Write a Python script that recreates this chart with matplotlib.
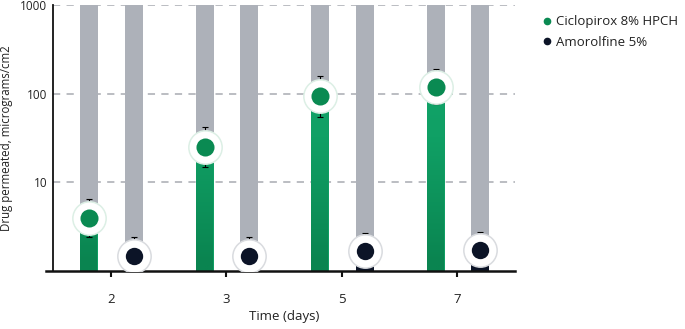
import numpy as np
import matplotlib
matplotlib.use("Agg")
import matplotlib.pyplot as plt
from matplotlib.lines import Line2D
from matplotlib.colors import LinearSegmentedColormap

# data (log scale)
days = ["2", "3", "5", "7"]
cic_vals = [4.0, 25, 94, 120]
cic_lo = [2.4, 14.9, 55, 76]
cic_hi = [6.5, 42, 160, 188]
amo_vals = [1.48, 1.48, 1.68, 1.73]
amo_lo = [1.3, 1.3, 1.5, 1.55]
amo_hi = [2.4, 2.4, 2.7, 2.75]

green = "#0f9e63"
green_dot = "#0a8a52"
navy = "#0c1427"
grey = "#adb1b9"
txt = "#222222"

plt.rcParams['font.family'] = ['Open Sans', 'DejaVu Sans']

fig = plt.figure(figsize=(6.85, 3.29), dpi=100)
ax = fig.add_axes([0.0774, 0.1763, 0.6745, 0.8085])

x = np.arange(len(days))
off_c, off_a, w = -0.185, 0.2, 0.155
ymin, ymax = 1, 1000

# grey background columns
for xi in x:
    ax.bar([xi + off_c, xi + off_a], [ymax - ymin] * 2, bottom=ymin, width=w,
           color=grey, zorder=1)

green_bars = ax.bar(x + off_c, np.array(cic_vals) - ymin, bottom=ymin, width=w,
                    color=green, zorder=2)
ax.bar(x + off_a, np.array(amo_vals) - ymin, bottom=ymin, width=w, color=navy, zorder=2)

# vertical shading on the green bars (darker towards the base), even on the log axis
cmap = LinearSegmentedColormap.from_list("g", ["#0a8450", "#10a065", "#14a66c"])
yy = np.linspace(ymin, ymax, 2048)
grad = (np.log10(yy) / np.log10(ymax)).reshape(-1, 1)
for b in green_bars:
    im = ax.imshow(grad, cmap=cmap, origin="lower", aspect="auto", zorder=2.1,
                   extent=[b.get_x(), b.get_x() + b.get_width(), ymin, ymax])
    im.set_clip_path(b)

# error bars
cv = np.array(cic_vals)
ax.errorbar(x + off_c, cv, yerr=[cv - np.array(cic_lo), np.array(cic_hi) - cv],
            fmt="none", ecolor="black", elinewidth=0.8, capsize=2, capthick=0.8, zorder=3)
av = np.array(amo_vals)
ax.errorbar(x + off_a, av, yerr=[av - np.array(amo_lo), np.array(amo_hi) - av],
            fmt="none", ecolor="black", elinewidth=0.8, capsize=2, capthick=0.8, zorder=3)

# ringed markers
ax.plot(x + off_c, cic_vals, "o", ms=24, mfc="white", mec="#dcefe5", mew=1.1, zorder=4, clip_on=False)
ax.plot(x + off_c, cic_vals, "o", ms=13, mfc=green_dot, mec=green_dot, mew=0, zorder=5, clip_on=False)
ax.plot(x + off_a, amo_vals, "o", ms=24, mfc="white", mec="#d9dbdf", mew=1.1, zorder=4)
ax.plot(x + off_a, amo_vals, "o", ms=12.5, mfc=navy, mec=navy, mew=0, zorder=5)

ax.set_yscale("log")
ax.set_ylim(ymin, ymax)
ax.set_xlim(-0.5, 3.5)
ax.set_yticks([10, 100, 1000])
ax.set_yticklabels(["10", "100", "1000"])
ax.yaxis.set_minor_locator(matplotlib.ticker.NullLocator())
ax.set_xticks(x)
ax.set_xticklabels(days)

ax.grid(axis="y", which="major", color="#b5b8bd", linestyle=(0, (4, 3.5)), linewidth=1.3)
ax.set_axisbelow(True)

for s in ["top", "right"]:
    ax.spines[s].set_visible(False)
ax.spines["left"].set_color("#111111")
ax.spines["left"].set_linewidth(1.3)
ax.spines["bottom"].set_color("#111111")
ax.spines["bottom"].set_linewidth(1.8)
ax.spines["bottom"].set_bounds(-0.56, 3.5)

ax.tick_params(axis="y", length=0, labelsize=8.5, labelcolor=txt, pad=4)
ax.tick_params(axis="x", length=4, width=1.5, color="#111111", labelsize=9.5, labelcolor=txt, pad=12)

ax.set_ylabel("Drug permeated, micrograms/cm2", fontsize=8.3, color=txt, labelpad=5)
ax.set_xlabel("Time (days)", fontsize=9.5, color=txt, labelpad=3)

handles = [Line2D([], [], marker="o", ls="", color=green_dot, ms=4.5),
           Line2D([], [], marker="o", ls="", color=navy, ms=4.5)]
fig.legend(handles, ["Ciclopirox 8% HPCH", "Amorolfine 5%"], loc="upper left",
           bbox_to_anchor=(0.77, 0.99), frameon=False, fontsize=9.5,
           handletextpad=0.1, handlelength=1.2, labelspacing=0.6, labelcolor=txt)

fig.savefig("out.png", dpi=100)
